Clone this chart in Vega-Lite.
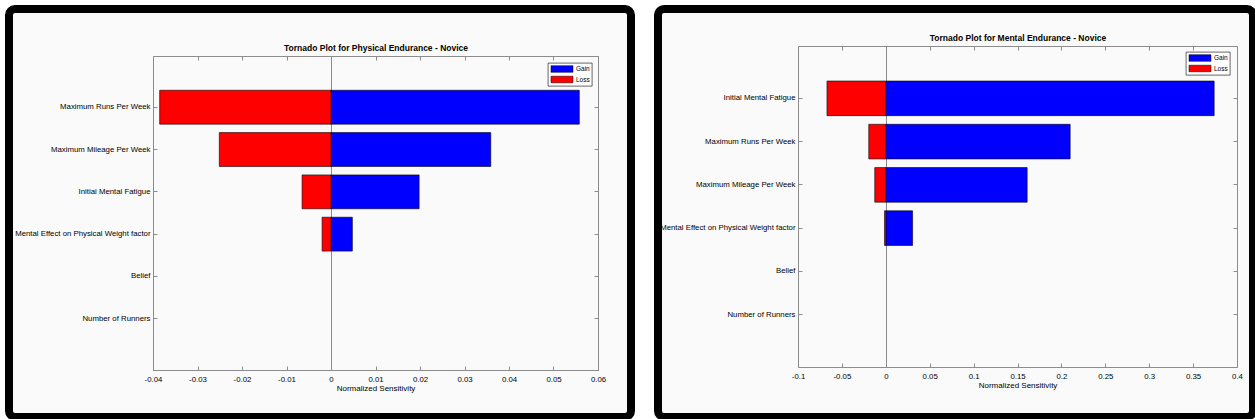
{
  "$schema": "https://vega.github.io/schema/vega-lite/v6.json",
  "background": "white",
  "padding": {"left": 5, "top": 5, "right": 0, "bottom": 0},
  "datasets": {
    "physical": [
      {"factor": "Maximum Runs Per Week", "type": "Gain", "value": 0.0558},
      {"factor": "Maximum Runs Per Week", "type": "Loss", "value": -0.0385},
      {"factor": "Maximum Mileage Per Week", "type": "Gain", "value": 0.0359},
      {"factor": "Maximum Mileage Per Week", "type": "Loss", "value": -0.0251},
      {"factor": "Initial Mental Fatigue", "type": "Gain", "value": 0.0198},
      {"factor": "Initial Mental Fatigue", "type": "Loss", "value": -0.0065},
      {"factor": "Mental Effect on Physical Weight factor", "type": "Gain", "value": 0.0048},
      {"factor": "Mental Effect on Physical Weight factor", "type": "Loss", "value": -0.002},
      {"factor": "Belief", "type": "Gain", "value": 0},
      {"factor": "Belief", "type": "Loss", "value": 0},
      {"factor": "Number of Runners", "type": "Gain", "value": 0},
      {"factor": "Number of Runners", "type": "Loss", "value": 0}
    ],
    "mental": [
      {"factor": "Initial Mental Fatigue", "type": "Gain", "value": 0.374},
      {"factor": "Initial Mental Fatigue", "type": "Loss", "value": -0.067},
      {"factor": "Maximum Runs Per Week", "type": "Gain", "value": 0.21},
      {"factor": "Maximum Runs Per Week", "type": "Loss", "value": -0.0194},
      {"factor": "Maximum Mileage Per Week", "type": "Gain", "value": 0.161},
      {"factor": "Maximum Mileage Per Week", "type": "Loss", "value": -0.0126},
      {"factor": "Mental Effect on Physical Weight factor", "type": "Gain", "value": 0.0305},
      {"factor": "Mental Effect on Physical Weight factor", "type": "Loss", "value": -0.0015},
      {"factor": "Belief", "type": "Gain", "value": 0},
      {"factor": "Belief", "type": "Loss", "value": 0},
      {"factor": "Number of Runners", "type": "Gain", "value": 0},
      {"factor": "Number of Runners", "type": "Loss", "value": 0}
    ]
  },
  "spacing": 19,
  "resolve": {"scale": {"color": "independent"}, "legend": {"color": "independent"}},
  "hconcat": [
    {
      "width": 622,
      "height": 408,
      "data": {"name": "physical"},
      "layer": [
        {
          "transform": [{"filter": "datum.value != 0"}],
          "mark": {"type": "bar", "stroke": "black", "strokeWidth": 0.6},
          "encoding": {
            "x": {
              "field": "value", "type": "quantitative", "stack": null,
              "scale": {"domain": [-0.04, 0.06], "range": [144, 589], "nice": false, "zero": false},
              "axis": {
                "orient": "bottom", "offset": -47,
                "values": [-0.04, -0.03, -0.02, -0.01, 0, 0.01, 0.02, 0.03, 0.04, 0.05, 0.06],
                "labelExpr": "replace(format(datum.value, '~g'), '\u2212', '-')",
                "labelPadding": 9, "title": "Normalized Sensitivity", "titlePadding": 2
              }
            },
            "x2": {"datum": 0},
            "y": {
              "field": "factor", "type": "nominal",
              "scale": {
                "domain": ["Maximum Runs Per Week", "Maximum Mileage Per Week", "Initial Mental Fatigue", "Mental Effect on Physical Weight factor", "Belief", "Number of Runners"],
                "range": [47, 361], "paddingInner": 0.2, "paddingOuter": 0.81
              },
              "axis": {"orient": "left", "offset": -144, "title": null, "labelPadding": 7}
            },
            "color": {
              "field": "type", "type": "nominal",
              "scale": {"domain": ["Gain", "Loss"], "range": ["#0000ff", "#ff0000"]},
              "legend": {"legendX": 539, "legendY": 54}
            }
          }
        },
        {
          "mark": {"type": "point", "opacity": 0},
          "encoding": {
            "x": {
              "field": "value", "type": "quantitative",
              "axis": {
                "orient": "top", "offset": -47,
                "values": [-0.04, -0.03, -0.02, -0.01, 0, 0.01, 0.02, 0.03, 0.04, 0.05, 0.06],
                "labels": false, "grid": true,
                "gridOpacity": {"condition": {"test": "datum.value === 0", "value": 1}, "value": 0},
                "title": "Tornado Plot for Physical Endurance - Novice",
                "titleFontWeight": "bold", "titleFontSize": 8.5, "titlePadding": 3
              }
            },
            "y": {
              "field": "factor", "type": "nominal",
              "axis": {"orient": "right", "offset": -33, "labels": false, "title": null}
            }
          }
        }
      ],
      "resolve": {"axis": {"x": "independent", "y": "independent"}}
    },
    {
      "width": 595,
      "height": 408,
      "data": {"name": "mental"},
      "layer": [
        {
          "transform": [{"filter": "datum.value != 0"}],
          "mark": {"type": "bar", "stroke": "black", "strokeWidth": 0.6},
          "encoding": {
            "x": {
              "field": "value", "type": "quantitative", "stack": null,
              "scale": {"domain": [-0.1, 0.4], "range": [140, 579], "nice": false, "zero": false},
              "axis": {
                "orient": "bottom", "offset": -50,
                "values": [-0.1, -0.05, 0, 0.05, 0.1, 0.15, 0.2, 0.25, 0.3, 0.35, 0.4],
                "labelExpr": "replace(format(datum.value, '~g'), '\u2212', '-')",
                "labelPadding": 9, "title": "Normalized Sensitivity", "titlePadding": 2
              }
            },
            "x2": {"datum": 0},
            "y": {
              "field": "factor", "type": "nominal",
              "scale": {
                "domain": ["Initial Mental Fatigue", "Maximum Runs Per Week", "Maximum Mileage Per Week", "Mental Effect on Physical Weight factor", "Belief", "Number of Runners"],
                "range": [37, 358], "paddingInner": 0.2, "paddingOuter": 0.81
              },
              "axis": {"orient": "left", "offset": -140, "title": null, "labelPadding": 7}
            },
            "color": {
              "field": "type", "type": "nominal",
              "scale": {"domain": ["Gain", "Loss"], "range": ["#0000ff", "#ff0000"]},
              "legend": {"legendX": 528, "legendY": 43}
            }
          }
        },
        {
          "mark": {"type": "point", "opacity": 0},
          "encoding": {
            "x": {
              "field": "value", "type": "quantitative",
              "axis": {
                "orient": "top", "offset": -37,
                "values": [-0.1, -0.05, 0, 0.05, 0.1, 0.15, 0.2, 0.25, 0.3, 0.35, 0.4],
                "labels": false, "grid": true,
                "gridOpacity": {"condition": {"test": "datum.value === 0", "value": 1}, "value": 0},
                "title": "Tornado Plot for Mental Endurance - Novice",
                "titleFontWeight": "bold", "titleFontSize": 8.5, "titlePadding": 3
              }
            },
            "y": {
              "field": "factor", "type": "nominal",
              "axis": {"orient": "right", "offset": -16, "labels": false, "title": null}
            }
          }
        }
      ],
      "resolve": {"axis": {"x": "independent", "y": "independent"}}
    }
  ],
  "config": {
    "font": "Liberation Sans",
    "view": {"stroke": "black", "strokeWidth": 8, "cornerRadius": 6, "fill": "#fafafa"},
    "axis": {
      "domainColor": "#8c8c8c", "domainWidth": 1,
      "tickColor": "#8c8c8c", "tickWidth": 1, "tickSize": -4,
      "gridColor": "#8c8c8c", "gridWidth": 1,
      "grid": false,
      "labelColor": "black", "labelFont": "Liberation Sans", "labelFontSize": 7.8,
      "labelFlush": false, "labelOverlap": false,
      "titleColor": "black", "titleFont": "Liberation Sans", "titleFontSize": 8, "titleFontWeight": "normal"
    },
    "legend": {
      "orient": "none", "title": null,
      "symbolType": "M-3.14,-0.94H3.14V0.94H-3.14Z", "symbolSize": 49,
      "symbolOffset": 8,
      "symbolStrokeColor": "black", "symbolStrokeWidth": 0.5, "symbolOpacity": 1,
      "labelFont": "Liberation Sans", "labelFontSize": 6.5, "labelColor": "black", "labelOffset": 10,
      "rowPadding": 0.5, "padding": 2,
      "strokeColor": "black", "strokeWidth": 0.6, "fillColor": "white"
    }
  }
}
